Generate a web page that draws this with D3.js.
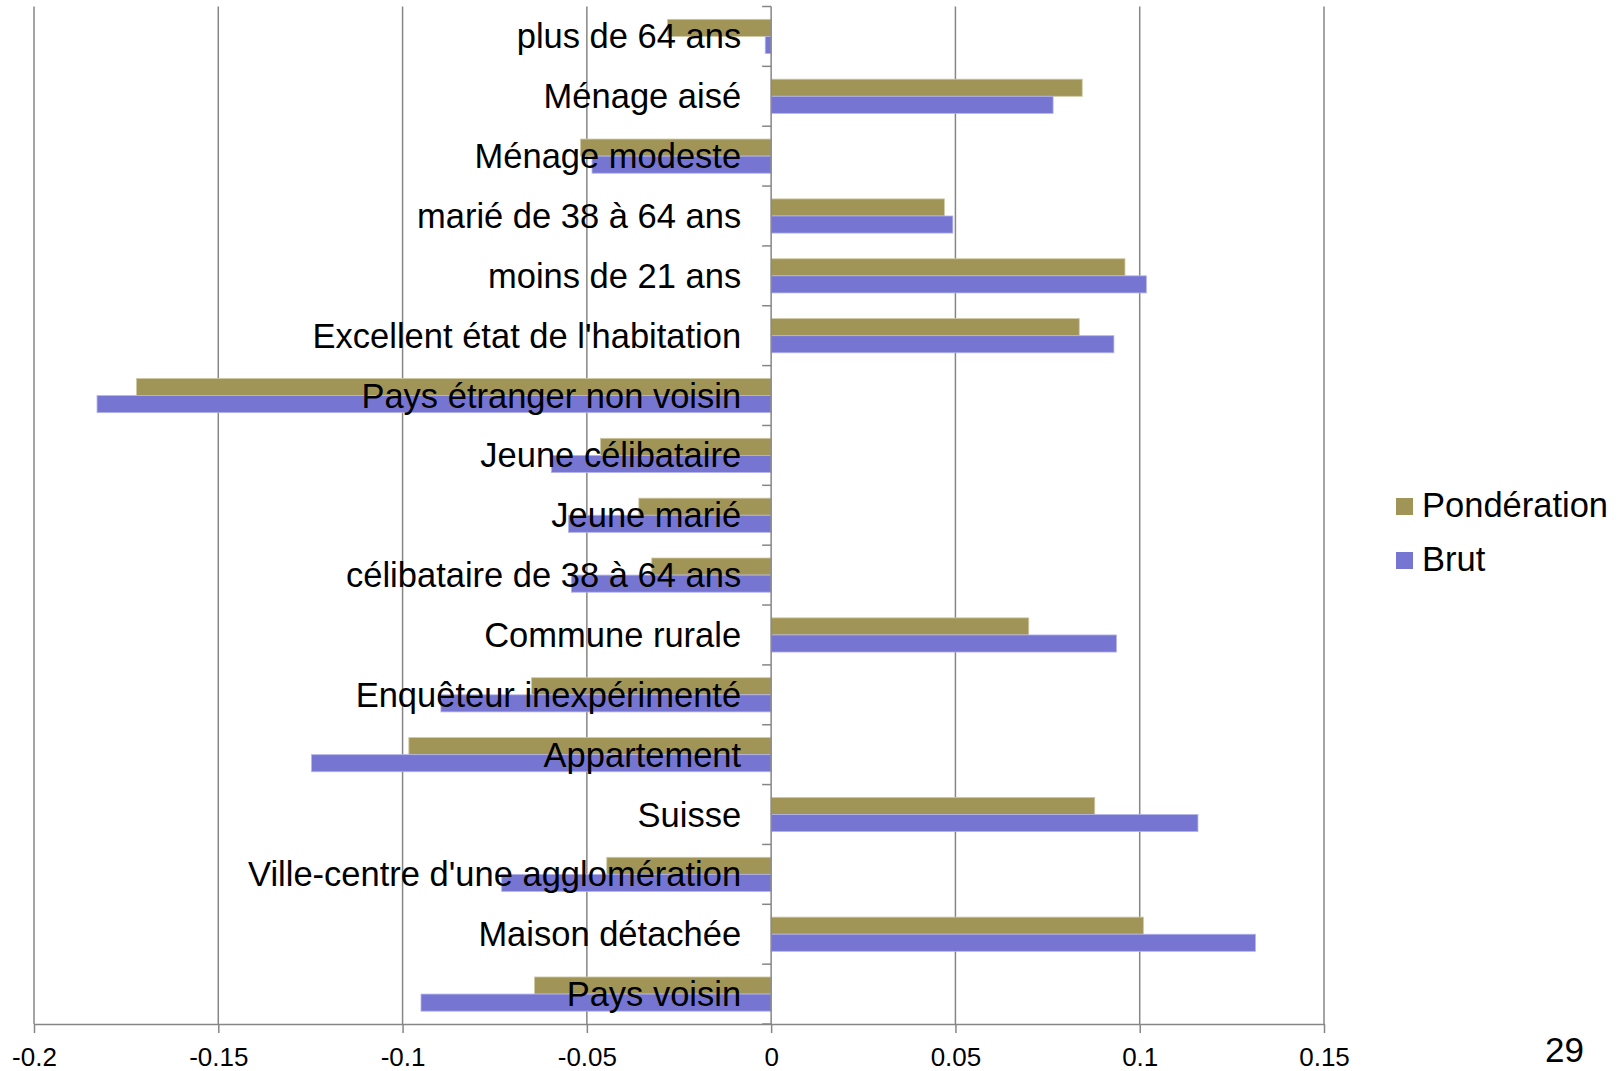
<!DOCTYPE html>
<html>
<head>
<meta charset="utf-8">
<script src="https://cdn.jsdelivr.net/npm/d3@7/dist/d3.min.js"></script>
<style>
  html, body { margin: 0; padding: 0; background: #fff; }
  svg { display: block; font-family: "Liberation Sans", Arial, sans-serif; }
</style>
</head>
<body>
<svg id="chart"></svg>
<script>
// chart data (top to bottom)
var categories = [
  'plus de 64 ans',
  'Ménage aisé',
  'Ménage modeste',
  'marié de 38 à 64 ans',
  'moins de 21 ans',
  "Excellent état de l'habitation",
  'Pays étranger non voisin',
  'Jeune célibataire',
  'Jeune marié',
  'célibataire de 38 à 64 ans',
  'Commune rurale',
  'Enquêteur inexpérimenté',
  'Appartement',
  'Suisse',
  "Ville-centre d'une agglomération",
  'Maison détachée',
  'Pays voisin'
];
var series_names = ['Pondération', 'Brut'];
var ponderation = [-0.0281, 0.0844, -0.0517, 0.0470, 0.0960, 0.0836, -0.1722, -0.0463, -0.0359, -0.0324, 0.0699, -0.0650, -0.0983, 0.0878, -0.0446, 0.1010, -0.0642];
var brut = [-0.0016, 0.0765, -0.0486, 0.0493, 0.1018, 0.0930, -0.1829, -0.0596, -0.0550, -0.0542, 0.0937, -0.0896, -0.1247, 0.1158, -0.0731, 0.1314, -0.0950];
var x_ticks = [-0.2, -0.15, -0.1, -0.05, 0, 0.05, 0.1, 0.15];
var x_tick_labels = ['-0.2', '-0.15', '-0.1', '-0.05', '0', '0.05', '0.1', '0.15'];
var page_number = '29';

// layout
var svg_width = 1623,
  svg_height = 1071,
  plot_left = 34,
  plot_right = 1324,
  plot_top = 6.5,
  plot_bottom = 1024,
  axis_color = '#868686',
  colors = ['#A09557', '#7676D2'],
  strokes = ['#cfc9a4', '#b4b4ec'];

var svg = d3.select('#chart')
  .attr('width', svg_width)
  .attr('height', svg_height);

var x = d3.scaleLinear()
  .domain([-0.2, 0.15])
  .range([plot_left, plot_right]);

var y = d3.scaleBand()
  .domain(categories)
  .range([plot_top, plot_bottom])
  .padding(0);

// two bars per category, group width = band / 1.75 (gap 75%)
var y_inner = d3.scaleBand()
  .domain(series_names)
  .range([0, y.bandwidth()])
  .paddingInner(0)
  .paddingOuter(0.75);

// vertical gridlines
svg.append('g')
  .selectAll('line')
  .data(x_ticks.filter(function(d) { return d !== 0; }))
  .enter()
  .append('line')
  .attr('x1', function(d) { return x(d); })
  .attr('x2', function(d) { return x(d); })
  .attr('y1', plot_top)
  .attr('y2', plot_bottom)
  .attr('stroke', axis_color)
  .attr('stroke-width', 1.5);

// bars
var rows = categories.map(function(c, i) {
  return [
    { cat: c, name: series_names[0], value: ponderation[i], k: 0 },
    { cat: c, name: series_names[1], value: brut[i], k: 1 }
  ];
});

svg.append('g')
  .selectAll('g')
  .data(rows)
  .enter()
  .append('g')
  .attr('transform', function(d) { return 'translate(0,' + y(d[0].cat) + ')'; })
  .selectAll('rect')
  .data(function(d) { return d; })
  .enter()
  .append('rect')
  .attr('x', function(d) { return Math.min(x(0), x(d.value)); })
  .attr('width', function(d) { return Math.abs(x(d.value) - x(0)); })
  .attr('y', function(d) { return y_inner(d.name); })
  .attr('height', y_inner.bandwidth())
  .attr('fill', function(d) { return colors[d.k]; })
  .attr('stroke', function(d) { return strokes[d.k]; })
  .attr('stroke-width', 0.8);

// category axis at zero, ticks between categories
var cat_axis = svg.append('g');
cat_axis.append('line')
  .attr('x1', x(0)).attr('x2', x(0))
  .attr('y1', plot_top).attr('y2', plot_bottom)
  .attr('stroke', axis_color)
  .attr('stroke-width', 1.5);
cat_axis.selectAll('.cat-tick')
  .data(d3.range(categories.length + 1))
  .enter()
  .append('line')
  .attr('class', 'cat-tick')
  .attr('x1', x(0) - 9).attr('x2', x(0))
  .attr('y1', function(i) { return plot_top + i * y.step(); })
  .attr('y2', function(i) { return plot_top + i * y.step(); })
  .attr('stroke', axis_color)
  .attr('stroke-width', 1.5);

// category labels
svg.append('g')
  .selectAll('text')
  .data(categories)
  .enter()
  .append('text')
  .attr('x', x(0) - 30)
  .attr('y', function(d) { return y(d) + y.bandwidth() / 2 + 12; })
  .attr('text-anchor', 'end')
  .attr('font-size', 34.5)
  .attr('fill', '#000')
  .text(function(d) { return d; });

// value axis
var x_axis = svg.append('g')
  .attr('transform', 'translate(0,' + plot_bottom + ')')
  .call(d3.axisBottom(x)
    .tickValues(x_ticks)
    .tickFormat(function(d, i) { return x_tick_labels[i]; })
    .tickSize(9)
    .tickSizeOuter(0)
    .tickPadding(15));
x_axis.select('.domain').attr('stroke', axis_color).attr('stroke-width', 1.5);
x_axis.selectAll('.tick line').attr('stroke', axis_color).attr('stroke-width', 1.5);
x_axis.selectAll('.tick text')
  .attr('font-family', '"Liberation Sans", Arial, sans-serif')
  .attr('font-size', 26)
  .attr('fill', '#000');

// legend
var legend = svg.append('g')
  .attr('transform', 'translate(1396,498)');
var legend_item = legend.selectAll('g')
  .data(series_names)
  .enter()
  .append('g')
  .attr('transform', function(d, i) { return 'translate(0,' + i * 54 + ')'; });
legend_item.append('rect')
  .attr('width', 17)
  .attr('height', 17)
  .attr('fill', function(d, i) { return colors[i]; });
legend_item.append('text')
  .attr('x', 26)
  .attr('y', 19)
  .attr('font-size', 34.5)
  .attr('fill', '#000')
  .text(function(d) { return d; });

// slide number
svg.append('text')
  .attr('x', 1545)
  .attr('y', 1062)
  .attr('font-size', 35)
  .attr('fill', '#000')
  .text(page_number);
</script>
</body>
</html>
